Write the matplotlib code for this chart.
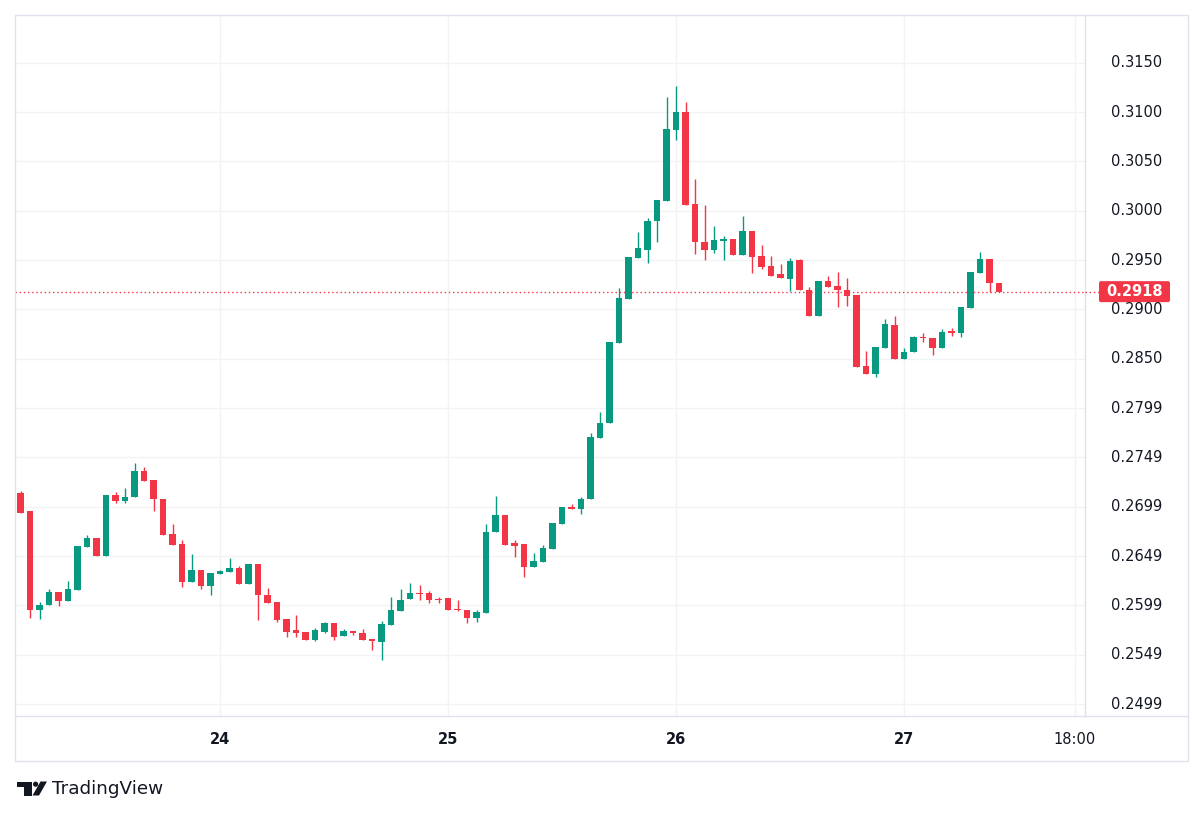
import matplotlib
matplotlib.use("Agg")
import matplotlib.pyplot as plt
import pandas as pd
from matplotlib.patches import Rectangle, Polygon, Circle, FancyBboxPatch
from matplotlib.transforms import blended_transform_factory

# ---------------- data (hourly candles, 23rd 03:00 -> 27th 10:00) ----------------
start_time = "2024-01-23 03:00"
opens = [0.2714, 0.2696, 0.2595, 0.2600, 0.2614, 0.2604, 0.2616, 0.2659, 0.2668, 0.2650,
         0.2712, 0.2706, 0.2710, 0.2736, 0.2727, 0.2708, 0.2672, 0.2662, 0.2624, 0.2636,
         0.2620, 0.2632, 0.2634, 0.2638, 0.2622, 0.2642, 0.2611, 0.2603, 0.2586, 0.2575,
         0.2573, 0.2565, 0.2573, 0.2582, 0.2569, 0.2574, 0.2572, 0.2566, 0.2563, 0.2580,
         0.2594, 0.2606, 0.2613, 0.2613, 0.2606, 0.2607, 0.2596, 0.2595, 0.2587, 0.2592,
         0.2674, 0.2692, 0.2663, 0.2662, 0.2639, 0.2644, 0.2657, 0.2683, 0.2700, 0.2698,
         0.2708, 0.2770, 0.2785, 0.2866, 0.2911, 0.2952, 0.2960, 0.2990, 0.3010, 0.3082,
         0.3100, 0.3007, 0.2968, 0.2960, 0.2969, 0.2971, 0.2955, 0.2979, 0.2954, 0.2944,
         0.2936, 0.2931, 0.2950, 0.2920, 0.2893, 0.2929, 0.2924, 0.2920, 0.2915, 0.2843,
         0.2835, 0.2861, 0.2884, 0.2850, 0.2857, 0.2872, 0.2871, 0.2861, 0.2878, 0.2876,
         0.2901, 0.2937, 0.2951, 0.2927]
highs = [0.2716, 0.2696, 0.2603, 0.2617, 0.2614, 0.2625, 0.2660, 0.2671, 0.2668, 0.2712,
         0.2715, 0.2719, 0.2744, 0.2740, 0.2727, 0.2708, 0.2683, 0.2666, 0.2652, 0.2636,
         0.2633, 0.2636, 0.2648, 0.2640, 0.2642, 0.2642, 0.2618, 0.2603, 0.2586, 0.2590,
         0.2573, 0.2577, 0.2583, 0.2582, 0.2576, 0.2574, 0.2576, 0.2566, 0.2584, 0.2609,
         0.2617, 0.2623, 0.2621, 0.2615, 0.2609, 0.2607, 0.2605, 0.2595, 0.2595, 0.2682,
         0.2711, 0.2692, 0.2666, 0.2662, 0.2653, 0.2661, 0.2684, 0.2700, 0.2703, 0.2710,
         0.2775, 0.2796, 0.2867, 0.2922, 0.2953, 0.2978, 0.2993, 0.3011, 0.3115, 0.3126,
         0.3110, 0.3032, 0.3006, 0.2985, 0.2974, 0.2971, 0.2995, 0.2979, 0.2965, 0.2954,
         0.2946, 0.2952, 0.2951, 0.2923, 0.2929, 0.2934, 0.2938, 0.2932, 0.2915, 0.2858,
         0.2862, 0.2890, 0.2893, 0.2861, 0.2873, 0.2876, 0.2871, 0.2880, 0.2881, 0.2902,
         0.2938, 0.2958, 0.2951, 0.2927]
lows = [0.2694, 0.2587, 0.2586, 0.2600, 0.2599, 0.2604, 0.2616, 0.2659, 0.2650, 0.2650,
        0.2704, 0.2704, 0.2710, 0.2726, 0.2696, 0.2671, 0.2661, 0.2619, 0.2624, 0.2617,
        0.2611, 0.2632, 0.2634, 0.2622, 0.2622, 0.2585, 0.2602, 0.2583, 0.2568, 0.2568,
        0.2565, 0.2564, 0.2572, 0.2565, 0.2569, 0.2570, 0.2565, 0.2555, 0.2545, 0.2580,
        0.2594, 0.2606, 0.2605, 0.2602, 0.2602, 0.2595, 0.2594, 0.2582, 0.2583, 0.2592,
        0.2674, 0.2661, 0.2649, 0.2629, 0.2639, 0.2644, 0.2657, 0.2683, 0.2698, 0.2693,
        0.2708, 0.2770, 0.2785, 0.2866, 0.2911, 0.2952, 0.2947, 0.2968, 0.3010, 0.3072,
        0.3006, 0.2956, 0.2950, 0.2957, 0.2950, 0.2955, 0.2955, 0.2937, 0.2941, 0.2934,
        0.2932, 0.2919, 0.2920, 0.2893, 0.2893, 0.2923, 0.2902, 0.2903, 0.2842, 0.2835,
        0.2832, 0.2861, 0.2850, 0.2850, 0.2857, 0.2867, 0.2854, 0.2861, 0.2873, 0.2872,
        0.2901, 0.2937, 0.2918, 0.2918]
closes = [0.2694, 0.2595, 0.2600, 0.2614, 0.2604, 0.2617, 0.2660, 0.2668, 0.2650, 0.2712,
          0.2706, 0.2710, 0.2736, 0.2726, 0.2708, 0.2671, 0.2661, 0.2624, 0.2636, 0.2620,
          0.2633, 0.2635, 0.2638, 0.2622, 0.2642, 0.2611, 0.2602, 0.2585, 0.2573, 0.2572,
          0.2565, 0.2575, 0.2582, 0.2568, 0.2574, 0.2572, 0.2565, 0.2564, 0.2581, 0.2595,
          0.2605, 0.2613, 0.2612, 0.2605, 0.2605, 0.2595, 0.2595, 0.2587, 0.2593, 0.2674,
          0.2692, 0.2661, 0.2660, 0.2639, 0.2645, 0.2658, 0.2684, 0.2700, 0.2698, 0.2708,
          0.2771, 0.2785, 0.2867, 0.2912, 0.2953, 0.2962, 0.2990, 0.3011, 0.3083, 0.3100,
          0.3006, 0.2968, 0.2960, 0.2970, 0.2971, 0.2955, 0.2979, 0.2953, 0.2943, 0.2934,
          0.2932, 0.2949, 0.2920, 0.2893, 0.2929, 0.2923, 0.2920, 0.2914, 0.2842, 0.2835,
          0.2862, 0.2885, 0.2850, 0.2857, 0.2872, 0.2871, 0.2861, 0.2877, 0.2876, 0.2902,
          0.2938, 0.2951, 0.2927, 0.2918]

time_tick_times = ["2024-01-24 00:00", "2024-01-25 00:00", "2024-01-26 00:00",
                   "2024-01-27 00:00", "2024-01-27 18:00"]
time_tick_labels = ["24", "25", "26", "27", "18:00"]
time_tick_bold = [True, True, True, True, False]

price_ticks = [0.3150, 0.3100, 0.3050, 0.3000, 0.2950, 0.2900, 0.2850,
               0.2800, 0.2750, 0.2700, 0.2650, 0.2600, 0.2550, 0.2500]
price_labels = ["0.3150", "0.3100", "0.3050", "0.3000", "0.2950", "0.2900", "0.2850",
                "0.2799", "0.2749", "0.2699", "0.2649", "0.2599", "0.2549", "0.2499"]

UP = "#089981"
DOWN = "#f23645"
TEXT = "#131722"
GRID = "#f2f3f5"
BORDER = "#e0e3eb"

# ---------------- figure ----------------
W, H = 1200, 817
fig = plt.figure(figsize=(W / 100, H / 100), dpi=100)
fig.patch.set_facecolor("white")

t0 = pd.Timestamp(start_time)
times = pd.date_range(t0, periods=len(closes), freq="h")
x = [(t - t0) / pd.Timedelta(hours=1) for t in times]
tick_x = [(pd.Timestamp(t) - t0) / pd.Timedelta(hours=1) for t in time_tick_times]

ax = fig.add_axes([15 / W, 1 - 716 / H, 1070 / W, 701 / H])
ax.set_xlim(-0.58, 112.05)
ax.set_ylim(0.24879, 0.31984)
for s in ax.spines.values():
    s.set_visible(False)
ax.set_xticks([])
ax.set_yticks([])

for p in price_ticks:
    ax.axhline(p, color=GRID, lw=1, zorder=0)
for tx in tick_x:
    ax.axvline(tx, color=GRID, lw=1, zorder=0)

cols = [UP if c >= o else DOWN for o, c in zip(opens, closes)]
ax.vlines(x, lows, highs, colors=cols, lw=1.0, zorder=2)
bottoms = [min(o, c) for o, c in zip(opens, closes)]
heights = [max(abs(c - o), 0.00009) for o, c in zip(opens, closes)]
ax.bar(x, heights, bottom=bottoms, width=0.72, color=cols, linewidth=0, zorder=3)

last = closes[-1]
ax.axhline(last, color=DOWN, lw=1, linestyle=(0, (1, 2)), zorder=1)

# ---------------- overlay in pixel coordinates ----------------
ov = fig.add_axes([0, 0, 1, 1], zorder=5)
ov.set_xlim(0, W)
ov.set_ylim(H, 0)
ov.axis("off")
ov.patch.set_alpha(0)

ov.add_patch(Rectangle((15, 15), 1173, 746, fill=False, ec=BORDER, lw=1))
ov.plot([1085, 1085], [15, 716], color=BORDER, lw=1)
ov.plot([15, 1188], [716, 716], color=BORDER, lw=1)

ytrans = blended_transform_factory(ov.transData, ax.transData)
for p, lab in zip(price_ticks, price_labels):
    ov.text(1111, p, lab, transform=ytrans, ha="left", va="center",
            fontsize=10.5, color=TEXT, family="DejaVu Sans")

xtrans = blended_transform_factory(ax.transData, ov.transData)
for tx, lab, b in zip(tick_x, time_tick_labels, time_tick_bold):
    ov.text(tx, 739, lab, transform=xtrans, ha="center", va="center",
            fontsize=10.5, color=TEXT, fontweight="bold" if b else "normal",
            family="DejaVu Sans")

# current price label
yb = H - ax.transData.transform((0, last))[1]
ov.plot([1085, 1099], [yb, yb], color=DOWN, lw=1, linestyle=(0, (1, 2)))
ov.add_patch(FancyBboxPatch((1099, yb - 10.5), 71, 21,
                            boxstyle="round,pad=0,rounding_size=2",
                            fc=DOWN, ec="none"))
ov.text(1134.5, yb, f"{last:.4f}", ha="center", va="center", fontsize=10.5,
        color="white", fontweight="bold", family="DejaVu Sans")

# TradingView logo
ov.add_patch(Rectangle((16.5, 781.5), 15, 5, fc=TEXT, ec="none"))
ov.add_patch(Rectangle((24, 781.5), 7.5, 14, fc=TEXT, ec="none"))
ov.add_patch(Circle((35.6, 784.2), 2.6, fc=TEXT, ec="none"))
ov.add_patch(Polygon([(32.5, 795.5), (39, 795.5), (47, 781.5), (40.5, 781.5)],
                     closed=True, fc=TEXT, ec="none"))
ov.text(52, 789, "TradingView", ha="left", va="center", fontsize=13.2,
        color=TEXT, family="DejaVu Sans")

fig.savefig("out.png", dpi=100, facecolor="white")
